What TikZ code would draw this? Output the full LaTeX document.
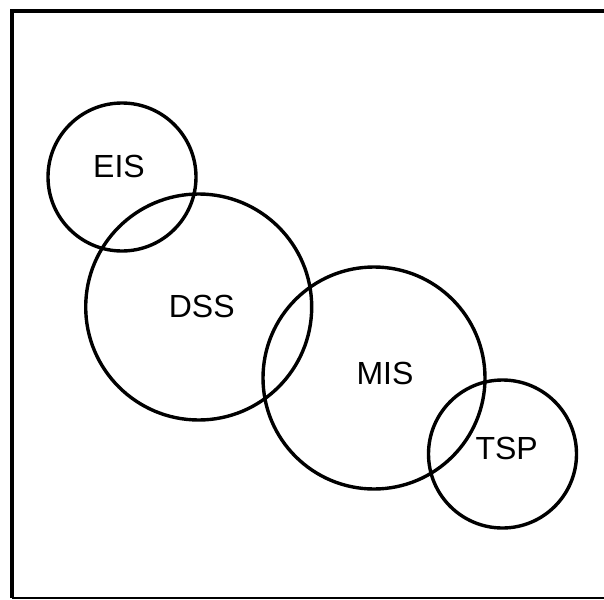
\documentclass[tikz,border=0pt]{standalone}
\usepackage{fontspec}
\setmainfont{Liberation Sans}
\begin{document}
\begin{tikzpicture}[x=1pt,y=-1pt,
  ring/.style={draw=black,line width=3.4pt},
  lbl/.style={font=\fontsize{32}{38}\selectfont,inner sep=0pt,anchor=center},
  edge/.style={draw=black,line width=4pt}]
\useasboundingbox (0,0) rectangle (604,599);
\fill[white] (0,0) rectangle (604,599);
% frame
\coordinate (tl) at (11.5,11);
\coordinate (tr) at (604,11);
\coordinate (bl) at (11.5,598);
\coordinate (br) at (604,598);
\draw[edge] (tr) -- (tl) -- (bl);
\draw[line width=1.2pt] (bl) -- (br);
% circles
\draw[ring] (122,177) circle (74);
\draw[ring] (198.7,307) circle (113);
\draw[ring] (374,378) circle (111);
\draw[ring] (502.5,454) circle (74);
% labels
\node[lbl] (eis) at (119,166) {EIS};
\node[lbl] (dss) at (201.7,306.7) {DSS};
\node[lbl] (mis) at (385,373) {MIS};
\node[lbl] (tsp) at (506.7,448) {TSP};
\end{tikzpicture}
\end{document}
